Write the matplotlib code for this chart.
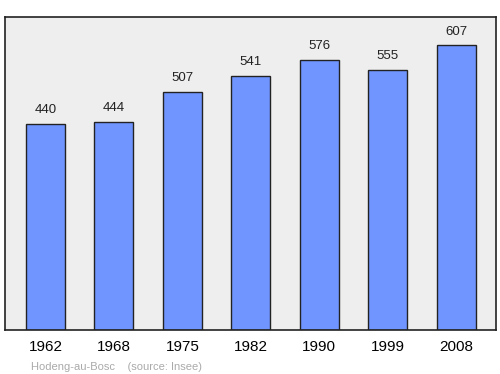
import matplotlib.pyplot as plt

plt.rcParams['font.family'] = ['Liberation Sans', 'DejaVu Sans']

years = ['1962', '1968', '1975', '1982', '1990', '1999', '2008']
population = [440, 444, 507, 541, 576, 555, 607]

fig = plt.figure(figsize=(5, 3.74), dpi=100)
ax = fig.add_axes([0.01, 0.1176, 0.982, 0.837])
ax.set_facecolor('#eeeeee')

x = list(range(len(years)))
bars = ax.bar(x, population, width=0.57, color='#7095ff', edgecolor='#222222', linewidth=1, zorder=2)

# value labels above each bar
for xi, v in zip(x, population):
    ax.annotate(str(v), (xi, v), xytext=(0, 5.5), textcoords='offset points',
                ha='center', va='bottom', fontsize=9.5, color='#222222')

ax.set_xlim(-0.59, 6.58)
ax.set_ylim(0, 667)
ax.set_xticks(x)
ax.set_xticklabels(years, fontsize=11)
ax.tick_params(axis='x', length=0, pad=7.5)
ax.set_yticks([])
for s in ax.spines.values():
    s.set_linewidth(1.2)
    s.set_color('#222222')

fig.text(0.062, 0.012, 'Hodeng-au-Bosc    (source: Insee)', fontsize=8, color='#aaaaaa')

fig.savefig('out.png', dpi=100)
